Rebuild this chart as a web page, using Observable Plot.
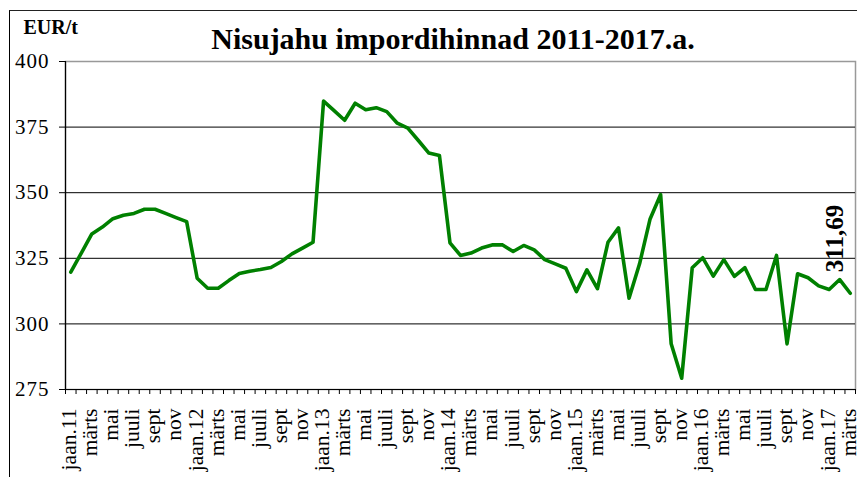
<!DOCTYPE html>
<html>
<head>
<meta charset="utf-8">
<script src="https://cdn.jsdelivr.net/npm/d3@7"></script>
<script src="https://cdn.jsdelivr.net/npm/@observablehq/plot@0.6"></script>
<style>
  body { margin: 0; background: #fff; }
  #wrap { position: relative; width: 857px; height: 477px; overflow: hidden; }
  #border { position: absolute; left: 9px; top: 10px; right: -10px; bottom: -10px;
            border-left: 1px solid #000; border-top: 1px solid #222; pointer-events: none; }
  #wrap svg, #wrap svg text { font-family: "Liberation Serif", "Times New Roman", serif !important; }
  g[aria-label="y-axis tick label"] text { letter-spacing: 1px; }
</style>
</head>
<body>
<div id="wrap"></div>
<script>
// Monthly categories jaan.2011 ... märts.2017 (75 months); labels on every second month
const tickLabels = [
  "jaan.11","märts","mai","juuli","sept","nov",
  "jaan.12","märts","mai","juuli","sept","nov",
  "jaan.13","märts","mai","juuli","sept","nov",
  "jaan.14","märts","mai","juuli","sept","nov",
  "jaan.15","märts","mai","juuli","sept","nov",
  "jaan.16","märts","mai","juuli","sept","nov",
  "jaan.17","märts"
];
const prices = [
  319.7, 327.0, 334.3, 336.9, 340.1, 341.4, 342.1, 343.7, 343.7, 342.1, 340.5, 339.0,
  317.4, 313.6, 313.6, 316.5, 319.2, 320.1, 320.7, 321.5, 323.8, 326.7, 328.9, 331.1,
  384.9, 381.3, 377.6, 384.1, 381.6, 382.4, 380.9, 376.5, 374.6, 369.9, 365.1, 364.2,
  330.9, 326.1, 327.0, 328.9, 330.1, 330.1, 327.6, 329.9, 328.2, 324.5, 322.9, 321.2,
  312.3, 320.6, 313.4, 331.1, 336.6, 309.8, 322.9, 340.0, 349.3, 292.4, 279.3, 321.4,
  325.2, 318.2, 324.5, 318.1, 321.4, 313.1, 313.1, 326.1, 292.4, 319.1, 317.6, 314.5,
  313.1, 316.9, 311.69
];
const yTicks = [275, 300, 325, 350, 375, 400];
const gridValues = [300, 325, 350, 375];
const title = "Nisujahu impordihinnad 2011-2017.a.";
const unitLabel = "EUR/t";
const lastLabel = "311,69";

const serif = "'Liberation Serif', 'Times New Roman', serif";
const data = prices.map((v, i) => ({i, v}));
const n = prices.length;
const boundaries = d3.range(-0.5, n, 1);
const labelIdx = tickLabels.map((_, k) => 2 * k);
const last = data[n - 1];

const chart = Plot.plot({
  width: 857,
  height: 477,
  marginLeft: 65,
  marginRight: 2,
  marginTop: 61,
  marginBottom: 88,
  style: {fontFamily: serif, background: "transparent", overflow: "visible"},
  x: {type: "linear", domain: [-0.5, n - 0.5]},
  y: {domain: [275, 400]},
  marks: [
    Plot.frame({stroke: "#999", strokeWidth: 1.5}),
    Plot.ruleY(gridValues, {stroke: "#000", strokeWidth: 1}),
    Plot.ruleY([275], {stroke: "#000", strokeWidth: 1.2}),
    Plot.ruleX([-0.5], {stroke: "#000", strokeWidth: 1.2}),
    Plot.axisY({ticks: yTicks, tickSize: 6, tickPadding: 10, fontSize: 21, fontFamily: serif,
                label: null, stroke: "#000"}),
    Plot.axisX({ticks: boundaries, tickSize: 5, tickFormat: () => "", label: null, stroke: "#000"}),
    Plot.axisX({ticks: labelIdx, tickSize: 0, tickPadding: 19, tickRotate: -90, fontSize: 21.5,
                fontFamily: serif, dx: -1.5, tickFormat: d => tickLabels[d / 2], label: null}),
    Plot.line(data, {x: "i", y: "v", stroke: "#008000", strokeWidth: 3.6, strokeLinejoin: "round"}),
    Plot.text([last], {x: "i", y: "v", text: () => lastLabel, rotate: -90, textAnchor: "start",
                       lineAnchor: "bottom", dx: -7, dy: -21, fontSize: 25, fontWeight: "bold",
                       fontFamily: serif, fill: "#000"}),
    Plot.text([title], {frameAnchor: "top", lineAnchor: "bottom", dx: -7.5, dy: -12.5,
                        fontSize: 30, fontWeight: "bold", fontFamily: serif, fill: "#000"}),
    Plot.text([unitLabel], {frameAnchor: "top-left", textAnchor: "start", lineAnchor: "bottom",
                            dx: -42, dy: -27.7, fontSize: 20, fontWeight: "bold", fontFamily: serif,
                            fill: "#000"})
  ]
});
const wrap = document.getElementById("wrap");
wrap.appendChild(chart);
const border = document.createElement("div");
border.id = "border";
wrap.appendChild(border);
</script>
</body>
</html>
